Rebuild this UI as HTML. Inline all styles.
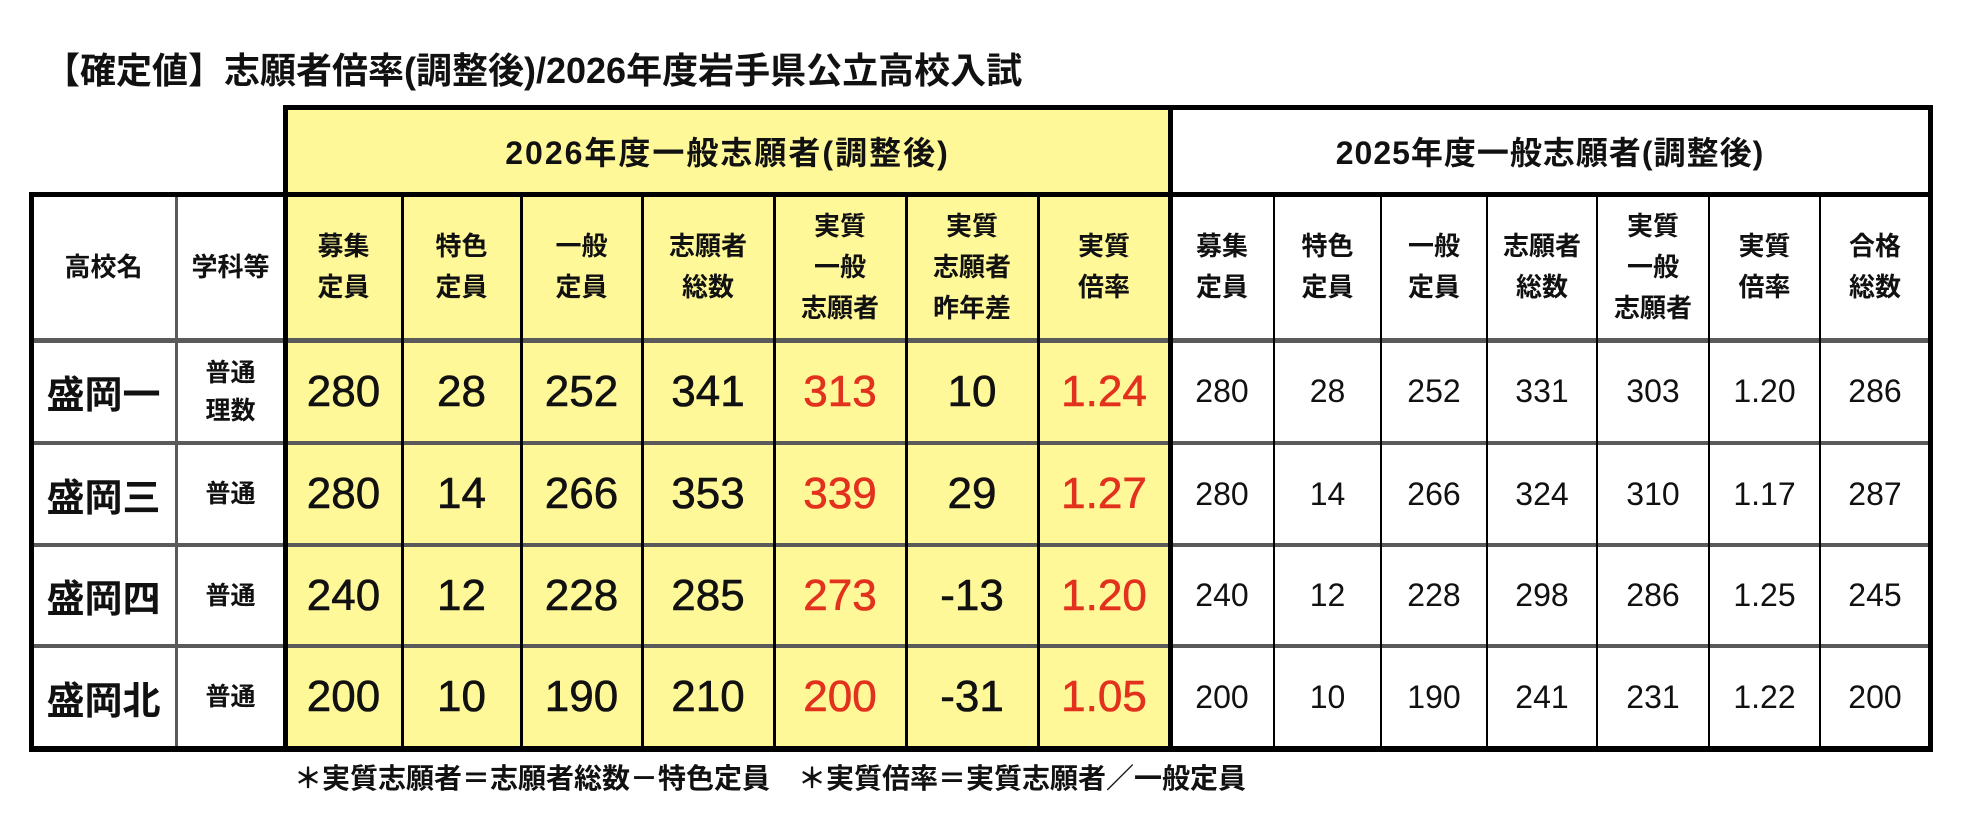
<!DOCTYPE html>
<html><head><meta charset="utf-8"><style>
body{margin:0;width:1976px;height:825px;background:#fff;position:relative;overflow:hidden;font-family:"Liberation Sans","Noto Sans CJK JP",sans-serif;color:#111}
.a{position:absolute}
.c{position:absolute;display:flex;align-items:center;justify-content:center;text-align:center}
.h{font-size:26px;line-height:41px;font-weight:bold}
.n{font-size:44px;-webkit-text-stroke:0.6px #111}
.r{font-size:32px}
.red{color:#e2311d;-webkit-text-stroke:0.6px #e2311d}
.nm{font-size:38px;font-weight:bold}
.sm{font-size:25px;line-height:38px;font-weight:bold}
.l{position:absolute;background:#000}
.g{position:absolute;background:#5a5a5a}
</style></head><body>
<div class="a" style="left:44px;top:42px;font-size:36px;font-weight:bold;white-space:nowrap">【確定値】志願者倍率(調整後)/2026年度岩手県公立高校入試</div>
<div class="a" style="left:285px;top:107px;width:885px;height:641px;background:#fff899"></div>

<div class="c" style="left:285px;top:107px;width:885px;height:87px;font-size:32px;letter-spacing:2px;font-weight:bold">2026年度一般志願者(調整後)</div>
<div class="c" style="left:1170px;top:107px;width:760px;height:87px;font-size:32px;letter-spacing:1px;font-weight:bold">2025年度一般志願者(調整後)</div>

<div class="c h" style="left:31px;top:194px;width:145px;height:146px">高校名</div>
<div class="c h" style="left:176px;top:194px;width:109px;height:146px">学科等</div>
<div class="c h" style="left:285px;top:194px;width:117px;height:146px">募集<br>定員</div>
<div class="c h" style="left:402px;top:194px;width:119px;height:146px">特色<br>定員</div>
<div class="c h" style="left:521px;top:194px;width:121px;height:146px">一般<br>定員</div>
<div class="c h" style="left:642px;top:194px;width:132px;height:146px">志願者<br>総数</div>
<div class="c h" style="left:774px;top:194px;width:132px;height:146px">実質<br>一般<br>志願者</div>
<div class="c h" style="left:906px;top:194px;width:132px;height:146px">実質<br>志願者<br>昨年差</div>
<div class="c h" style="left:1038px;top:194px;width:132px;height:146px">実質<br>倍率</div>
<div class="c h" style="left:1170px;top:194px;width:104px;height:146px">募集<br>定員</div>
<div class="c h" style="left:1274px;top:194px;width:107px;height:146px">特色<br>定員</div>
<div class="c h" style="left:1381px;top:194px;width:106px;height:146px">一般<br>定員</div>
<div class="c h" style="left:1487px;top:194px;width:110px;height:146px">志願者<br>総数</div>
<div class="c h" style="left:1597px;top:194px;width:112px;height:146px">実質<br>一般<br>志願者</div>
<div class="c h" style="left:1709px;top:194px;width:111px;height:146px">実質<br>倍率</div>
<div class="c h" style="left:1820px;top:194px;width:110px;height:146px">合格<br>総数</div>

<div class="c nm" style="left:31px;top:340px;width:145px;height:103px">盛岡一</div>
<div class="c sm" style="left:176px;top:340px;width:109px;height:103px">普通<br>理数</div>
<div class="c nm" style="left:31px;top:443px;width:145px;height:102px">盛岡三</div>
<div class="c sm" style="left:176px;top:443px;width:109px;height:102px">普通</div>
<div class="c nm" style="left:31px;top:545px;width:145px;height:101px">盛岡四</div>
<div class="c sm" style="left:176px;top:545px;width:109px;height:101px">普通</div>
<div class="c nm" style="left:31px;top:646px;width:145px;height:102px">盛岡北</div>
<div class="c sm" style="left:176px;top:646px;width:109px;height:102px">普通</div>

<div style="position:absolute;left:0;top:0">
<div class="c n" style="left:285px;top:340px;width:117px;height:103px">280</div>
<div class="c n" style="left:402px;top:340px;width:119px;height:103px">28</div>
<div class="c n" style="left:521px;top:340px;width:121px;height:103px">252</div>
<div class="c n" style="left:642px;top:340px;width:132px;height:103px">341</div>
<div class="c n red" style="left:774px;top:340px;width:132px;height:103px">313</div>
<div class="c n" style="left:906px;top:340px;width:132px;height:103px">10</div>
<div class="c n red" style="left:1038px;top:340px;width:132px;height:103px">1.24</div>
<div class="c r" style="left:1170px;top:340px;width:104px;height:103px">280</div>
<div class="c r" style="left:1274px;top:340px;width:107px;height:103px">28</div>
<div class="c r" style="left:1381px;top:340px;width:106px;height:103px">252</div>
<div class="c r" style="left:1487px;top:340px;width:110px;height:103px">331</div>
<div class="c r" style="left:1597px;top:340px;width:112px;height:103px">303</div>
<div class="c r" style="left:1709px;top:340px;width:111px;height:103px">1.20</div>
<div class="c r" style="left:1820px;top:340px;width:110px;height:103px">286</div>
<div class="c n" style="left:285px;top:443px;width:117px;height:102px">280</div>
<div class="c n" style="left:402px;top:443px;width:119px;height:102px">14</div>
<div class="c n" style="left:521px;top:443px;width:121px;height:102px">266</div>
<div class="c n" style="left:642px;top:443px;width:132px;height:102px">353</div>
<div class="c n red" style="left:774px;top:443px;width:132px;height:102px">339</div>
<div class="c n" style="left:906px;top:443px;width:132px;height:102px">29</div>
<div class="c n red" style="left:1038px;top:443px;width:132px;height:102px">1.27</div>
<div class="c r" style="left:1170px;top:443px;width:104px;height:102px">280</div>
<div class="c r" style="left:1274px;top:443px;width:107px;height:102px">14</div>
<div class="c r" style="left:1381px;top:443px;width:106px;height:102px">266</div>
<div class="c r" style="left:1487px;top:443px;width:110px;height:102px">324</div>
<div class="c r" style="left:1597px;top:443px;width:112px;height:102px">310</div>
<div class="c r" style="left:1709px;top:443px;width:111px;height:102px">1.17</div>
<div class="c r" style="left:1820px;top:443px;width:110px;height:102px">287</div>
<div class="c n" style="left:285px;top:545px;width:117px;height:101px">240</div>
<div class="c n" style="left:402px;top:545px;width:119px;height:101px">12</div>
<div class="c n" style="left:521px;top:545px;width:121px;height:101px">228</div>
<div class="c n" style="left:642px;top:545px;width:132px;height:101px">285</div>
<div class="c n red" style="left:774px;top:545px;width:132px;height:101px">273</div>
<div class="c n" style="left:906px;top:545px;width:132px;height:101px">-13</div>
<div class="c n red" style="left:1038px;top:545px;width:132px;height:101px">1.20</div>
<div class="c r" style="left:1170px;top:545px;width:104px;height:101px">240</div>
<div class="c r" style="left:1274px;top:545px;width:107px;height:101px">12</div>
<div class="c r" style="left:1381px;top:545px;width:106px;height:101px">228</div>
<div class="c r" style="left:1487px;top:545px;width:110px;height:101px">298</div>
<div class="c r" style="left:1597px;top:545px;width:112px;height:101px">286</div>
<div class="c r" style="left:1709px;top:545px;width:111px;height:101px">1.25</div>
<div class="c r" style="left:1820px;top:545px;width:110px;height:101px">245</div>
<div class="c n" style="left:285px;top:646px;width:117px;height:102px">200</div>
<div class="c n" style="left:402px;top:646px;width:119px;height:102px">10</div>
<div class="c n" style="left:521px;top:646px;width:121px;height:102px">190</div>
<div class="c n" style="left:642px;top:646px;width:132px;height:102px">210</div>
<div class="c n red" style="left:774px;top:646px;width:132px;height:102px">200</div>
<div class="c n" style="left:906px;top:646px;width:132px;height:102px">-31</div>
<div class="c n red" style="left:1038px;top:646px;width:132px;height:102px">1.05</div>
<div class="c r" style="left:1170px;top:646px;width:104px;height:102px">200</div>
<div class="c r" style="left:1274px;top:646px;width:107px;height:102px">10</div>
<div class="c r" style="left:1381px;top:646px;width:106px;height:102px">190</div>
<div class="c r" style="left:1487px;top:646px;width:110px;height:102px">241</div>
<div class="c r" style="left:1597px;top:646px;width:112px;height:102px">231</div>
<div class="c r" style="left:1709px;top:646px;width:111px;height:102px">1.22</div>
<div class="c r" style="left:1820px;top:646px;width:110px;height:102px">200</div>
</div>

<div class="g" style="left:29px;top:338px;width:1903px;height:5px"></div>
<div class="g" style="left:29px;top:441px;width:1903px;height:4px"></div>
<div class="g" style="left:29px;top:543px;width:1903px;height:4px"></div>
<div class="g" style="left:29px;top:644px;width:1903px;height:4px"></div>
<div class="g" style="left:175px;top:194px;width:3px;height:556px"></div>
<div class="l" style="left:401px;top:194px;width:3px;height:556px"></div>
<div class="l" style="left:520px;top:194px;width:3px;height:556px"></div>
<div class="l" style="left:641px;top:194px;width:3px;height:556px"></div>
<div class="l" style="left:773px;top:194px;width:3px;height:556px"></div>
<div class="l" style="left:905px;top:194px;width:3px;height:556px"></div>
<div class="l" style="left:1037px;top:194px;width:3px;height:556px"></div>
<div class="l" style="left:1273px;top:194px;width:2px;height:556px"></div>
<div class="l" style="left:1380px;top:194px;width:2px;height:556px"></div>
<div class="l" style="left:1486px;top:194px;width:2px;height:556px"></div>
<div class="l" style="left:1596px;top:194px;width:2px;height:556px"></div>
<div class="l" style="left:1708px;top:194px;width:2px;height:556px"></div>
<div class="l" style="left:1819px;top:194px;width:2px;height:556px"></div>
<div class="l" style="left:283px;top:105px;width:1650px;height:5px"></div>
<div class="l" style="left:29px;top:192px;width:1903px;height:5px"></div>
<div class="l" style="left:29px;top:746px;width:1903px;height:6px"></div>
<div class="l" style="left:29px;top:192px;width:5px;height:560px"></div>
<div class="l" style="left:283px;top:105px;width:5px;height:647px"></div>
<div class="l" style="left:1168px;top:105px;width:5px;height:647px"></div>
<div class="l" style="left:1928px;top:105px;width:5px;height:647px"></div>

<div class="a" style="left:294px;top:762px;font-size:28px;font-weight:bold;white-space:nowrap;line-height:34px">＊実質志願者＝志願者総数－特色定員　＊実質倍率＝実質志願者／一般定員</div>
</body></html>
